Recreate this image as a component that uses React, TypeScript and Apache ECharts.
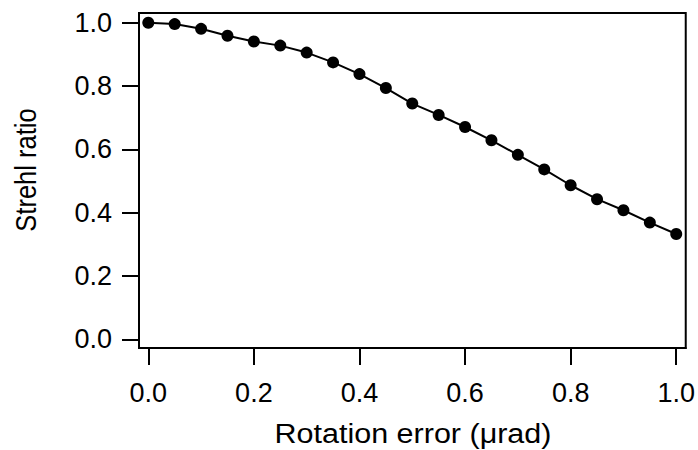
import React, { useEffect, useRef } from "react";
import * as echarts from "echarts";

const xValues = [0, 0.05, 0.1, 0.15, 0.2, 0.25, 0.3, 0.35, 0.4, 0.45, 0.5, 0.55, 0.6, 0.65, 0.7, 0.75, 0.8, 0.85, 0.9, 0.95, 1.0];
const strehl = [1.0, 0.996, 0.981, 0.959, 0.941, 0.928, 0.906, 0.875, 0.838, 0.794, 0.745, 0.709, 0.671, 0.629, 0.583, 0.537, 0.487, 0.443, 0.408, 0.369, 0.333];
const xTicks = [0, 0.2, 0.4, 0.6, 0.8, 1.0];
const yTicks = [0, 0.2, 0.4, 0.6, 0.8, 1.0];
const xTitle = "Rotation error (μrad)";
const yTitle = "Strehl ratio";

const FONT = "'Liberation Sans', Arial, sans-serif";

export default function App() {
  const ref = useRef<HTMLDivElement>(null);
  useEffect(() => {
    if (!ref.current) return;
    const chart = echarts.init(ref.current, null, { renderer: "svg" });
    chart.setOption({
      animation: false,
      backgroundColor: "#ffffff",
      grid: {
        left: 139,
        top: 13,
        right: 12,
        bottom: 102,
        show: true,
        borderColor: "#000",
        borderWidth: 2,
        backgroundColor: "transparent",
      },
      xAxis: {
        type: "value",
        min: -0.0176,
        max: 1.018,
        axisLine: { show: true, onZero: false, lineStyle: { color: "#000", width: 2 } },
        axisTick: { show: true, customValues: xTicks, length: 17, inside: false, lineStyle: { color: "#000", width: 2 } },
        axisLabel: {
          customValues: xTicks,
          color: "#000",
          fontSize: 27,
          fontFamily: FONT,
          margin: 31,
          formatter: (v: number) => v.toFixed(1),
        },
        splitLine: { show: false },
      },
      yAxis: {
        type: "value",
        min: -0.027,
        max: 1.031,
        axisLine: { show: true, onZero: false, lineStyle: { color: "#000", width: 2 } },
        axisTick: { show: true, customValues: yTicks, length: 17, inside: false, lineStyle: { color: "#000", width: 2 } },
        axisLabel: {
          customValues: yTicks,
          color: "#000",
          fontSize: 27,
          fontFamily: FONT,
          margin: 27,
          formatter: (v: number) => v.toFixed(1),
        },
        splitLine: { show: false },
      },
      graphic: [
        {
          type: "text",
          x: 413,
          y: 433,
          scaleX: 1.09,
          style: {
            text: xTitle,
            fill: "#000",
            font: `28px ${FONT}`,
            align: "center",
            verticalAlign: "middle",
          },
        },
        {
          type: "text",
          x: 26,
          y: 170,
          rotation: Math.PI / 2,
          scaleX: 0.88,
          style: {
            text: yTitle,
            fill: "#000",
            font: `29px ${FONT}`,
            align: "center",
            verticalAlign: "middle",
          },
        },
      ],
      series: [
        {
          type: "line",
          data: xValues.map((x, i) => [x, strehl[i]]),
          symbol: "circle",
          symbolSize: 12,
          itemStyle: { color: "#000" },
          lineStyle: { color: "#000", width: 2 },
        },
      ],
    });
    return () => chart.dispose();
  }, []);
  return <div ref={ref} style={{ width: 698, height: 450, position: "absolute", left: 0, top: 0 }} />;
}
